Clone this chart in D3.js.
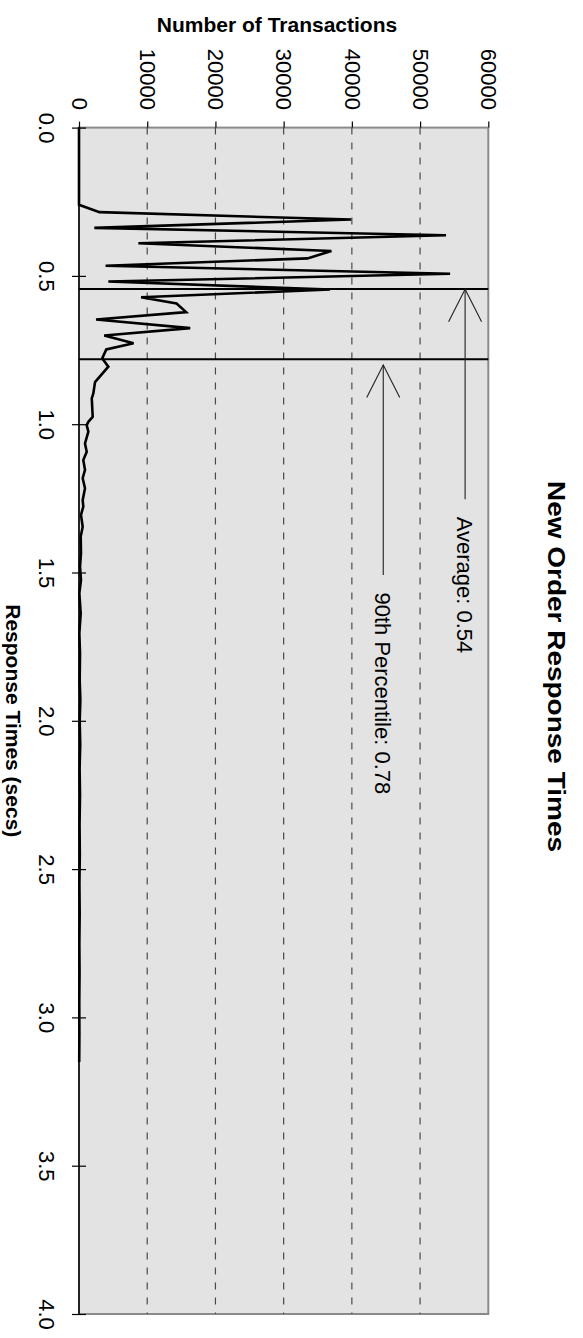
<!DOCTYPE html>
<html><head><meta charset="utf-8">
<script src="https://cdn.jsdelivr.net/npm/d3@7"></script>
<style>
body{margin:0;background:#fff}
svg{display:block}
text{font-family:"Liberation Sans",Arial,Helvetica,sans-serif;fill:#000}
</style>
</head><body>
<svg id="chart" width="583" height="1338"></svg>
<script>
// ---- data ----
const times = [0, 0.26, 0.285, 0.31, 0.338, 0.363, 0.39, 0.416, 0.441, 0.466,
  0.493, 0.519, 0.546, 0.572, 0.593, 0.622, 0.647, 0.676, 0.701, 0.727,
  0.748, 0.778, 0.806, 0.858, 0.896, 0.913, 0.975, 0.992, 1.003, 1.025,
  1.065, 1.093, 1.121, 1.154, 1.182, 1.216, 1.256, 1.278, 1.306, 1.346,
  1.379, 1.435, 1.48, 1.525, 1.57, 1.637, 1.705, 1.772, 1.862, 1.93,
  2.0, 2.08, 2.16, 2.25, 2.35, 2.45, 2.55, 2.65, 2.75, 2.85,
  2.95, 3.05, 3.15];
const counts = [0, 0, 3000, 39900, 2250, 53800, 8700, 37000, 33500, 3900,
  54400, 4300, 36800, 9100, 14300, 15700, 2500, 16300, 3700, 8000,
  4000, 3400, 4300, 2350, 2100, 1870, 2010, 1370, 1130, 1370,
  880, 1130, 630, 880, 540, 880, 540, 630, 290, 540,
  250, 290, 150, 290, 50, 250, 50, 150, 100, 200,
  100, 180, 90, 150, 80, 120, 60, 100, 50, 80,
  40, 60, 30];
const countTicks = [0, 10000, 20000, 30000, 40000, 50000, 60000];
const countTickLabels = ["0", "10000", "20000", "30000", "40000", "50000", "60000"];
const timeTicks = [0, 0.5, 1.0, 1.5, 2.0, 2.5, 3.0, 3.5, 4.0];
const timeTickLabels = ["0.0", "0.5", "1.0", "1.5", "2.0", "2.5", "3.0", "3.5", "4.0"];
const markerTimes = [0.544, 0.781];
const markerLabels = ["Average: 0.54", "90th Percentile: 0.78"];
const arrowCounts = [56600, 44600];
const titleText = "New Order Response Times";
const countAxisTitle = "Number of Transactions";
const timeAxisTitle = "Response Times (secs)";

// ---- layout ----
const svg = d3.select("#chart");
const L = 79, R = 488.3, T = 127.6, B = 1314;
const x = d3.scaleLinear().domain([0, 60000]).range([L, R]);
const y = d3.scaleLinear().domain([0, 4]).range([T, B]);
const arrowGap = [0.3, 5.7];
const arrowLen = 210;

// plot background
svg.append("rect").attr("x", L).attr("y", T).attr("width", R - L).attr("height", B - T)
  .attr("fill", "#e3e3e3").attr("stroke", "#8a8a8a").attr("stroke-width", 2);

// grid
svg.append("g").selectAll("line").data(countTicks.slice(1, -1)).join("line")
  .attr("x1", d => x(d)).attr("x2", d => x(d)).attr("y1", T).attr("y2", B)
  .attr("stroke", "#4a4a4a").attr("stroke-width", 1.2).attr("stroke-dasharray", "7,8");

// top (count) axis
const gTop = svg.append("g").attr("transform", `translate(0,${T})`)
  .call(d3.axisTop(x).tickValues(countTicks).tickSize(6).tickSizeOuter(0)
    .tickFormat((d, i) => countTickLabels[i]));
gTop.select(".domain").remove();
gTop.selectAll(".tick line").attr("stroke", "#000").attr("stroke-width", 1.2);
gTop.selectAll(".tick text").attr("x", 0).attr("y", 0).attr("dy", "0.35em")
  .attr("transform", "translate(0,-17.6) rotate(90)").attr("text-anchor", "end")
  .style("font-size", "22px").style("font-family", "'Liberation Sans',Arial,sans-serif");

// left (time) axis
const gLeft = svg.append("g").attr("transform", `translate(${L},0)`)
  .call(d3.axisLeft(y).tickValues(timeTicks).tickSize(7).tickSizeOuter(0)
    .tickFormat((d, i) => timeTickLabels[i]));
gLeft.select(".domain").remove();
gLeft.selectAll(".tick line").attr("x1", 7).attr("stroke", "#000").attr("stroke-width", 1.2);
gLeft.selectAll(".tick text").attr("x", 0).attr("y", 0).attr("dy", 0)
  .attr("transform", "translate(-39.7,0) rotate(90)").attr("text-anchor", "middle")
  .style("font-size", "22px").style("font-family", "'Liberation Sans',Arial,sans-serif");

svg.append("line").attr("x1", L).attr("x2", L).attr("y1", T).attr("y2", B)
  .attr("stroke", "#000").attr("stroke-width", 1.5);

// data line
const pts = times.map((t, i) => [t, counts[i]]);
svg.append("path").datum(pts)
  .attr("d", d3.line().x(d => x(d[1])).y(d => y(d[0])))
  .attr("fill", "none").attr("stroke", "#000").attr("stroke-width", 2.6)
  .attr("stroke-linejoin", "miter").attr("stroke-miterlimit", 4);

// marker lines
svg.append("g").selectAll("line").data(markerTimes).join("line")
  .attr("x1", L).attr("x2", R).attr("y1", d => y(d)).attr("y2", d => y(d))
  .attr("stroke", "#000").attr("stroke-width", 2);

// arrows + labels
markerTimes.forEach((t, i) => {
  const ax = x(arrowCounts[i]);
  const ty = y(t) + arrowGap[i];
  const g = svg.append("g");
  g.append("line").attr("x1", ax).attr("x2", ax).attr("y1", ty).attr("y2", ty + arrowLen)
    .attr("stroke", "#222").attr("stroke-width", 1.1);
  g.append("path").attr("d", `M${ax - 16.5},${ty + 32.5}L${ax},${ty}L${ax + 16.5},${ty + 32.5}`)
    .attr("fill", "none").attr("stroke", "#222").attr("stroke-width", 1.1);
  g.append("text").attr("transform", `translate(${ax - 8.5},${ty + arrowLen + 17.5}) rotate(90)`)
    .attr("text-anchor", "start").style("font-size", "22px").text(markerLabels[i]);
});

// titles
svg.append("text").attr("transform", "translate(548,666.5) rotate(90)")
  .attr("text-anchor", "middle").style("font-size", "24px").style("font-weight", "bold")
  .attr("textLength", 371).attr("lengthAdjust", "spacingAndGlyphs").text(titleText);
svg.append("text").attr("x", 277).attr("y", 31.7).attr("text-anchor", "middle")
  .style("font-size", "21px").style("font-weight", "bold").text(countAxisTitle);
svg.append("text").attr("transform", `translate(6,${(T + B) / 2}) rotate(90)`)
  .attr("text-anchor", "middle").style("font-size", "21px").style("font-weight", "bold")
  .text(timeAxisTitle);
</script>
</body></html>
